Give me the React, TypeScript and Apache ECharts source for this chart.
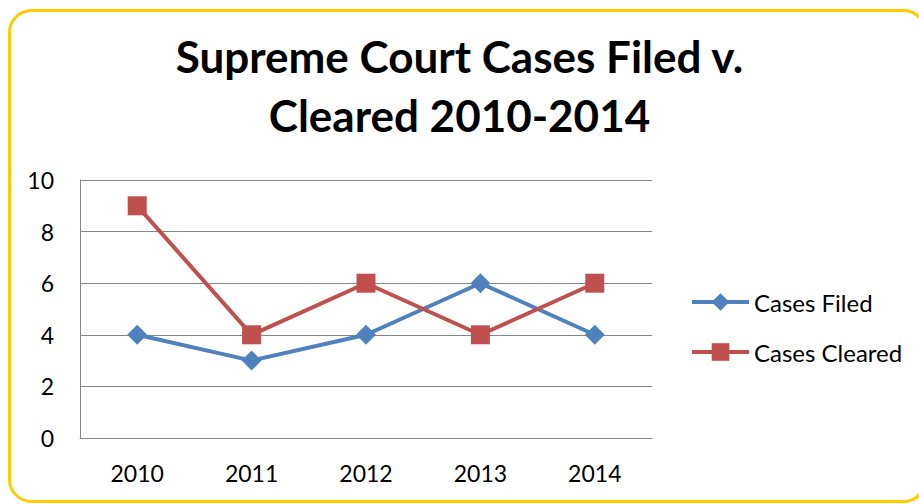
import React, { useEffect, useRef } from "react";
import * as echarts from "echarts";

const years = ["2010", "2011", "2012", "2013", "2014"];
const casesFiled = [4, 3, 4, 6, 4];
const casesCleared = [9, 4, 6, 4, 6];
const titleText = "Supreme Court Cases Filed v.\nCleared 2010-2014";

const FONT = "Lato, 'Open Sans', sans-serif";

export default function App() {
  const ref = useRef<HTMLDivElement>(null);
  useEffect(() => {
    if (!ref.current) return;
    const chart = echarts.init(ref.current, undefined, { renderer: "svg" });
    chart.setOption({
      animation: false,
      backgroundColor: "#ffffff",
      textStyle: { fontFamily: FONT },
      title: {
        text: titleText,
        left: "center",
        top: 21,
        textStyle: {
          fontFamily: FONT,
          fontSize: 44,
          fontWeight: "bold",
          color: "#000",
          lineHeight: 59,
        },
      },
      graphic: [
        {
          type: "rect",
          shape: { x: 9.5, y: 10.5, width: 916, height: 491, r: 22 },
          style: { fill: "none", stroke: "#FFCC00", lineWidth: 3 },
          silent: true,
        },
      ],
      grid: { left: 80, top: 180, width: 572, height: 258, containLabel: false },
      legend: {
        orient: "vertical",
        left: 690,
        top: 290,
        padding: 0,
        itemWidth: 57,
        itemHeight: 22,
        itemGap: 26,
        lineStyle: { width: 4 },
        textStyle: { fontFamily: FONT, fontSize: 24, color: "#000" },
        data: ["Cases Filed", "Cases Cleared"],
      },
      xAxis: {
        type: "category",
        data: years,
        boundaryGap: true,
        axisLine: { lineStyle: { color: "#868686", width: 1 } },
        axisTick: { show: false },
        axisLabel: { color: "#000", fontSize: 23, fontFamily: FONT, margin: 23 },
      },
      yAxis: {
        type: "value",
        min: 0,
        max: 10,
        interval: 2,
        axisLine: { show: true, lineStyle: { color: "#868686", width: 1 } },
        axisTick: { show: false },
        splitLine: { lineStyle: { color: "#868686", width: 1 } },
        axisLabel: { color: "#000", fontSize: 23, fontFamily: FONT, margin: 26 },
      },
      series: [
        {
          name: "Cases Filed",
          type: "line",
          data: casesFiled,
          color: "#4F81BD",
          lineStyle: { width: 4, color: "#4F81BD" },
          symbol: "diamond",
          symbolSize: 20,
          itemStyle: { color: "#4F81BD" },
        },
        {
          name: "Cases Cleared",
          type: "line",
          data: casesCleared,
          color: "#C0504D",
          lineStyle: { width: 4, color: "#C0504D" },
          symbol: "rect",
          symbolSize: 19,
          itemStyle: { color: "#C0504D" },
        },
      ],
    });
    return () => chart.dispose();
  }, []);
  return (
    <div
      ref={ref}
      style={{ position: "fixed", left: 0, top: 0, width: 919, height: 504 }}
    />
  );
}
